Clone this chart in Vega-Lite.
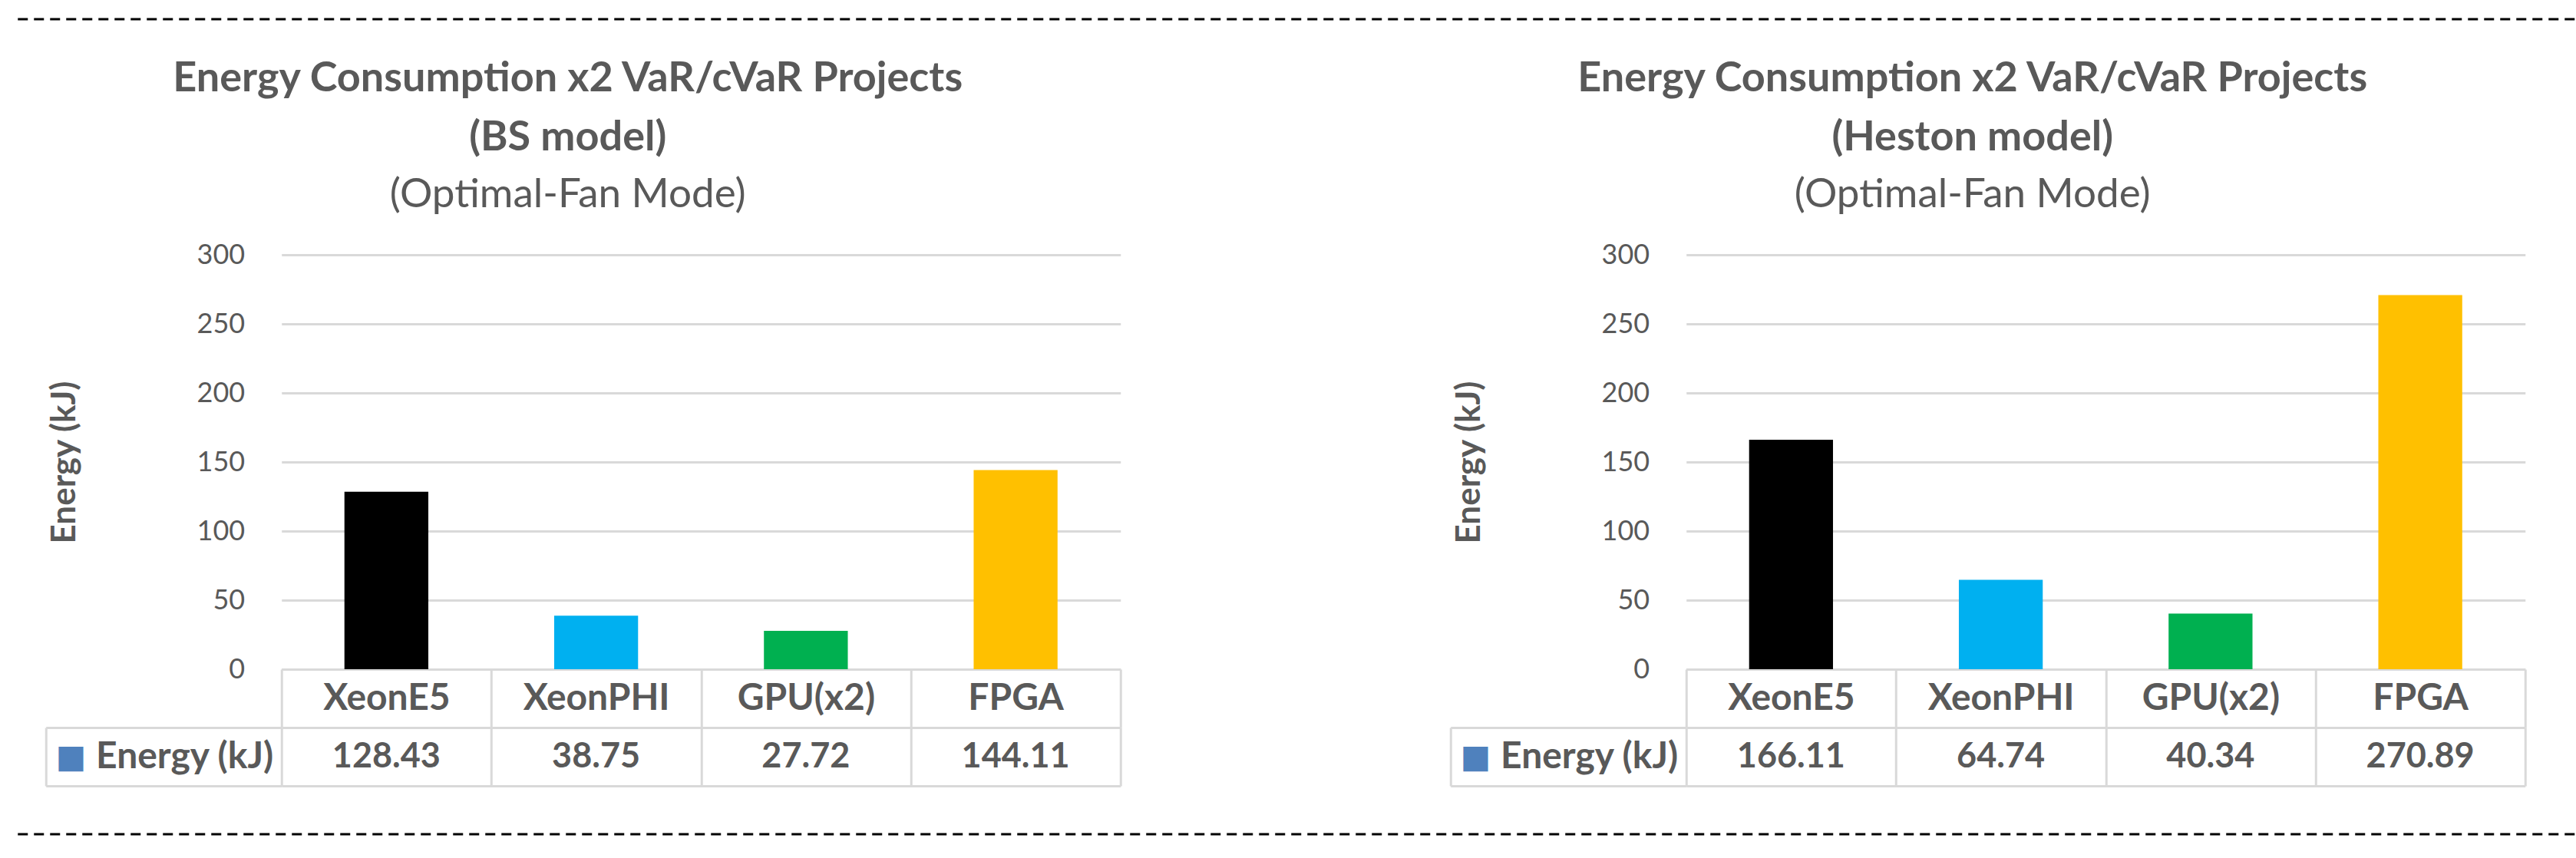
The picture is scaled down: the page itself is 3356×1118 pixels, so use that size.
{
  "$schema": "https://vega.github.io/schema/vega-lite/v6.json",
  "background": "white",
  "padding": {"left": 21, "top": 23, "right": 0, "bottom": 0},
  "config": {"view": {"stroke": null}, "font": "Lato", "concat": {"spacing": 0}},
  "datasets": {
    "bs": [
      {"device": "XeonE5", "energy": 128.43, "series": "Energy (kJ)"},
      {"device": "XeonPHI", "energy": 38.75, "series": "Energy (kJ)"},
      {"device": "GPU(x2)", "energy": 27.72, "series": "Energy (kJ)"},
      {"device": "FPGA", "energy": 144.11, "series": "Energy (kJ)"}
    ],
    "heston": [
      {"device": "XeonE5", "energy": 166.11, "series": "Energy (kJ)"},
      {"device": "XeonPHI", "energy": 64.74, "series": "Energy (kJ)"},
      {"device": "GPU(x2)", "energy": 40.34, "series": "Energy (kJ)"},
      {"device": "FPGA", "energy": 270.89, "series": "Energy (kJ)"}
    ]
  },
  "spacing": 49,
  "center": true,
  "vconcat": [
    {
      "width": 3610, "height": 1,
      "data": {"values": [{}]},
      "mark": {"type": "rule", "strokeDash": [13, 8], "strokeWidth": 3, "color": "black"},
      "encoding": {
        "x": {"datum": 0, "type": "quantitative", "scale": {"domain": [0, 1]}, "axis": null},
        "x2": {"datum": 1},
        "y": {"datum": 1, "type": "quantitative", "scale": {"domain": [0, 1]}, "axis": null}
      }
    },
    {
      "spacing": 426,
      "hconcat": [
        {
          "data": {"name": "bs"},
          "title": {"text": ["Energy Consumption x2 VaR/cVaR Projects", "(BS model)"], "subtitle": "(Optimal-Fan Mode)", "frame": "bounds", "anchor": "middle", "dx": -20, "offset": 33, "font": "Lato", "fontSize": 54, "fontWeight": "bold", "color": "#595959", "lineHeight": 77, "subtitleFont": "Lato", "subtitleFontSize": 53, "subtitleColor": "#595959", "subtitlePadding": 21},
          "bounds": "flush",
          "spacing": 76,
          "vconcat": [
            {
              "width": 1093, "height": 540,
              "mark": {"type": "bar", "width": {"band": 0.4}},
              "encoding": {
                "x": {"field": "device", "type": "nominal", "sort": ["XeonE5", "XeonPHI", "GPU(x2)", "FPGA"], "scale": {"paddingInner": 0, "paddingOuter": 0},
                  "axis": {"title": null, "labelAngle": 0, "tickBand": "extent", "tickSize": 76, "tickColor": "#d9d9d9", "tickWidth": 3, "domainColor": "#d9d9d9", "domainWidth": 3, "labelPadding": -38, "labelBaseline": "middle", "labelLimit": 0, "labelFont": "Lato", "labelFontSize": 48, "labelFontWeight": "bold", "labelColor": "#595959"}},
                "y": {"field": "energy", "type": "quantitative", "scale": {"domain": [0, 300]},
                  "axis": {"values": [0, 50, 100, 150, 200, 250, 300], "title": "Energy (kJ)", "titleFont": "Lato", "titleFontSize": 44, "titleFontWeight": "bold", "titleColor": "#595959", "titlePadding": 150, "grid": true, "gridColor": "#d9d9d9", "gridWidth": 3, "domain": false, "ticks": false, "labelPadding": 48, "labelFont": "Lato", "labelFontSize": 36, "labelColor": "#595959"}},
                "color": {"field": "device", "type": "nominal", "scale": {"domain": ["XeonE5", "XeonPHI", "GPU(x2)", "FPGA"], "range": ["#000000", "#00B0F0", "#00B050", "#FFC000"]}, "legend": null}
              }
            },
            {
              "width": 1093, "height": 76,
              "layer": [
                {
                  "mark": {"type": "text", "font": "Lato", "fontSize": 45, "fontWeight": "bold", "color": "#595959"},
                  "encoding": {
                    "x": {"field": "device", "type": "nominal", "sort": ["XeonE5", "XeonPHI", "GPU(x2)", "FPGA"], "scale": {"type": "band", "paddingInner": 0, "paddingOuter": 0},
                      "axis": {"title": null, "labels": false, "ticks": false, "domain": false, "grid": true, "tickBand": "extent", "gridColor": "#d9d9d9", "gridWidth": 3}},
                    "y": {"field": "series", "type": "nominal", "scale": {"type": "band", "paddingInner": 0, "paddingOuter": 0},
                      "axis": {"orient": "left", "title": "■", "titleAngle": 0, "titleColor": "#4F81BD", "titleFont": "DejaVu Sans", "titleFontSize": 42, "titleX": -275, "titleY": 38, "titleAlign": "center", "titleBaseline": "middle", "grid": true, "gridColor": "#d9d9d9", "gridWidth": 3, "tickBand": "extent", "tickSize": 307, "tickColor": "#d9d9d9", "tickWidth": 3, "domain": false, "labelPadding": -296, "labelLimit": 0, "labelFont": "Lato", "labelFontSize": 48, "labelFontWeight": "bold", "labelColor": "#595959", "labelAlign": "right"}},
                    "text": {"field": "energy", "type": "quantitative", "format": ".2f"}
                  }
                },
                {
                  "mark": {"type": "text", "opacity": 0},
                  "encoding": {
                    "y": {"field": "series", "type": "nominal", "axis": {"orient": "left", "offset": 307, "domain": true, "domainColor": "#d9d9d9", "domainWidth": 3, "ticks": false, "labels": false, "grid": false, "title": null}},
                    "text": {"value": ""}
                  }
                }
              ],
              "resolve": {"axis": {"y": "independent"}}
            }
          ]
        },
        {
          "data": {"name": "heston"},
          "title": {"text": ["Energy Consumption x2 VaR/cVaR Projects", "(Heston model)"], "subtitle": "(Optimal-Fan Mode)", "frame": "bounds", "anchor": "middle", "dx": -20, "offset": 33, "font": "Lato", "fontSize": 54, "fontWeight": "bold", "color": "#595959", "lineHeight": 77, "subtitleFont": "Lato", "subtitleFontSize": 53, "subtitleColor": "#595959", "subtitlePadding": 21},
          "bounds": "flush",
          "spacing": 76,
          "vconcat": [
            {
              "width": 1093, "height": 540,
              "mark": {"type": "bar", "width": {"band": 0.4}},
              "encoding": {
                "x": {"field": "device", "type": "nominal", "sort": ["XeonE5", "XeonPHI", "GPU(x2)", "FPGA"], "scale": {"paddingInner": 0, "paddingOuter": 0},
                  "axis": {"title": null, "labelAngle": 0, "tickBand": "extent", "tickSize": 76, "tickColor": "#d9d9d9", "tickWidth": 3, "domainColor": "#d9d9d9", "domainWidth": 3, "labelPadding": -38, "labelBaseline": "middle", "labelLimit": 0, "labelFont": "Lato", "labelFontSize": 48, "labelFontWeight": "bold", "labelColor": "#595959"}},
                "y": {"field": "energy", "type": "quantitative", "scale": {"domain": [0, 300]},
                  "axis": {"values": [0, 50, 100, 150, 200, 250, 300], "title": "Energy (kJ)", "titleFont": "Lato", "titleFontSize": 44, "titleFontWeight": "bold", "titleColor": "#595959", "titlePadding": 150, "grid": true, "gridColor": "#d9d9d9", "gridWidth": 3, "domain": false, "ticks": false, "labelPadding": 48, "labelFont": "Lato", "labelFontSize": 36, "labelColor": "#595959"}},
                "color": {"field": "device", "type": "nominal", "scale": {"domain": ["XeonE5", "XeonPHI", "GPU(x2)", "FPGA"], "range": ["#000000", "#00B0F0", "#00B050", "#FFC000"]}, "legend": null}
              }
            },
            {
              "width": 1093, "height": 76,
              "layer": [
                {
                  "mark": {"type": "text", "font": "Lato", "fontSize": 45, "fontWeight": "bold", "color": "#595959"},
                  "encoding": {
                    "x": {"field": "device", "type": "nominal", "sort": ["XeonE5", "XeonPHI", "GPU(x2)", "FPGA"], "scale": {"type": "band", "paddingInner": 0, "paddingOuter": 0},
                      "axis": {"title": null, "labels": false, "ticks": false, "domain": false, "grid": true, "tickBand": "extent", "gridColor": "#d9d9d9", "gridWidth": 3}},
                    "y": {"field": "series", "type": "nominal", "scale": {"type": "band", "paddingInner": 0, "paddingOuter": 0},
                      "axis": {"orient": "left", "title": "■", "titleAngle": 0, "titleColor": "#4F81BD", "titleFont": "DejaVu Sans", "titleFontSize": 42, "titleX": -275, "titleY": 38, "titleAlign": "center", "titleBaseline": "middle", "grid": true, "gridColor": "#d9d9d9", "gridWidth": 3, "tickBand": "extent", "tickSize": 307, "tickColor": "#d9d9d9", "tickWidth": 3, "domain": false, "labelPadding": -296, "labelLimit": 0, "labelFont": "Lato", "labelFontSize": 48, "labelFontWeight": "bold", "labelColor": "#595959", "labelAlign": "right"}},
                    "text": {"field": "energy", "type": "quantitative", "format": ".2f"}
                  }
                },
                {
                  "mark": {"type": "text", "opacity": 0},
                  "encoding": {
                    "y": {"field": "series", "type": "nominal", "axis": {"orient": "left", "offset": 307, "domain": true, "domainColor": "#d9d9d9", "domainWidth": 3, "ticks": false, "labels": false, "grid": false, "title": null}},
                    "text": {"value": ""}
                  }
                }
              ],
              "resolve": {"axis": {"y": "independent"}}
            }
          ]
        }
      ]
    },
    {
      "width": 3610, "height": 12,
      "data": {"values": [{}]},
      "mark": {"type": "rule", "strokeDash": [13, 8], "strokeWidth": 3, "color": "black"},
      "encoding": {
        "x": {"datum": 0, "type": "quantitative", "scale": {"domain": [0, 1]}, "axis": null},
        "x2": {"datum": 1},
        "y": {"datum": 0, "type": "quantitative", "scale": {"domain": [0, 1]}, "axis": null}
      }
    }
  ]
}
